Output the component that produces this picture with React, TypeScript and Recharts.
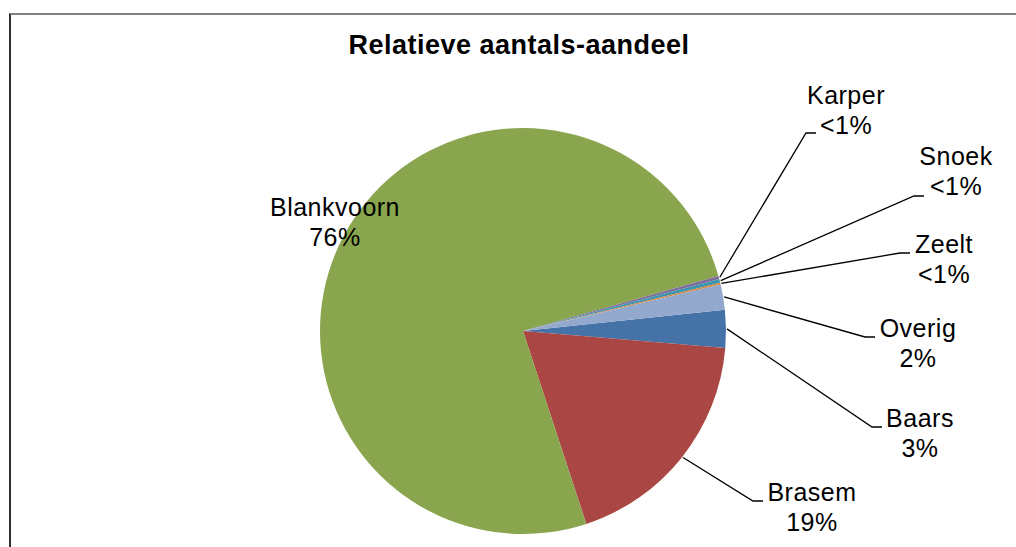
import React from 'react';
import { PieChart, Pie, Cell } from 'recharts';

const categories = ['Baars', 'Brasem', 'Blankvoorn', 'Karper', 'Snoek', 'Zeelt', 'Overig'];
const shares = [3.0, 18.6, 75.6, 0.25, 0.3, 0.15, 2.0];
const sliceColors = ['#4572A7', '#AA4643', '#89A54E', '#80699B', '#3D96AE', '#DB843D', '#92A8CD'];
const title = 'Relatieve aantals-aandeel';

// label layout relative to the pie centre: text centre x, first baseline y, leader elbow x/y (null = no leader)
const labelLayout = [
  { tx: 397, ty: 96, ex: 349, ey: 96 },    // Baars
  { tx: 289, ty: 170, ex: 230, ey: 170 },  // Brasem
  { tx: -188, ty: -115, ex: null, ey: null }, // Blankvoorn
  { tx: 323, ty: -227, ex: 283, ey: -198 }, // Karper
  { tx: 433, ty: -166, ex: 391, ey: -135 }, // Snoek
  { tx: 421, ty: -78, ex: 377, ey: -78 },   // Zeelt
  { tx: 395, ty: 6, ex: 342, ey: 6 },       // Overig
];

const data = categories.map((name, i) => ({ name, value: shares[i] }));

const FONT = '"Liberation Sans", Arial, sans-serif';
const RADIAN = Math.PI / 180;

const renderLabel = (props: any) => {
  const { cx, cy, midAngle, outerRadius, index, percent, name } = props;
  const lay = labelLayout[index];
  const pct = percent * 100;
  const pctText = pct < 1 ? '<1%' : `${Math.round(pct)}%`;
  const tx = cx + lay.tx;
  const ty = cy + lay.ty;
  let leader = null;
  if (lay.ex !== null) {
    const sx = cx + (outerRadius + 1) * Math.cos(-midAngle * RADIAN);
    const sy = cy + (outerRadius + 1) * Math.sin(-midAngle * RADIAN);
    const ex = cx + lay.ex;
    const ey = cy + lay.ey;
    leader = (
      <path
        d={`M${sx},${sy}L${ex},${ey}L${ex + 10},${ey}`}
        stroke="#000"
        strokeWidth={1.3}
        fill="none"
      />
    );
  }
  return (
    <g key={`lbl-${index}`}>
      {leader}
      <text x={tx} y={ty} textAnchor="middle" fontFamily={FONT} fontSize={25} letterSpacing={0.5} fill="#000">
        {name}
      </text>
      <text x={tx} y={ty + 30} textAnchor="middle" fontFamily={FONT} fontSize={25} letterSpacing={0.5} fill="#000">
        {pctText}
      </text>
    </g>
  );
};

export default function App() {
  return (
    <div
      style={{
        position: 'absolute',
        left: 0,
        top: 0,
        width: 1016,
        height: 547,
        overflow: 'hidden',
        background: '#fff',
      }}
    >
      <div
        style={{
          position: 'absolute',
          left: 9,
          top: 13,
          width: 1100,
          height: 700,
          borderTop: '2px solid #808080',
          borderLeft: '2px solid #303030',
          boxSizing: 'border-box',
        }}
      />
      <div
        style={{
          position: 'absolute',
          left: 0,
          top: 29,
          width: 1038,
          textAlign: 'center',
          fontFamily: FONT,
          fontWeight: 'bold',
          fontSize: 27,
          letterSpacing: 0.5,
          color: '#000',
          lineHeight: '32px',
        }}
      >
        {title}
      </div>
      <div style={{ position: 'absolute', left: 0, top: 0 }}>
        <PieChart width={1016} height={547} margin={{ top: 0, right: 0, bottom: 0, left: 0 }}>
          <Pie
            data={data}
            dataKey="value"
            nameKey="name"
            cx={523}
            cy={331}
            outerRadius={203}
            startAngle={6}
            endAngle={-354}
            stroke="none"
            isAnimationActive={false}
            label={renderLabel}
            labelLine={false}
          >
            {data.map((d, i) => (
              <Cell key={d.name} fill={sliceColors[i]} />
            ))}
          </Pie>
        </PieChart>
      </div>
    </div>
  );
}
